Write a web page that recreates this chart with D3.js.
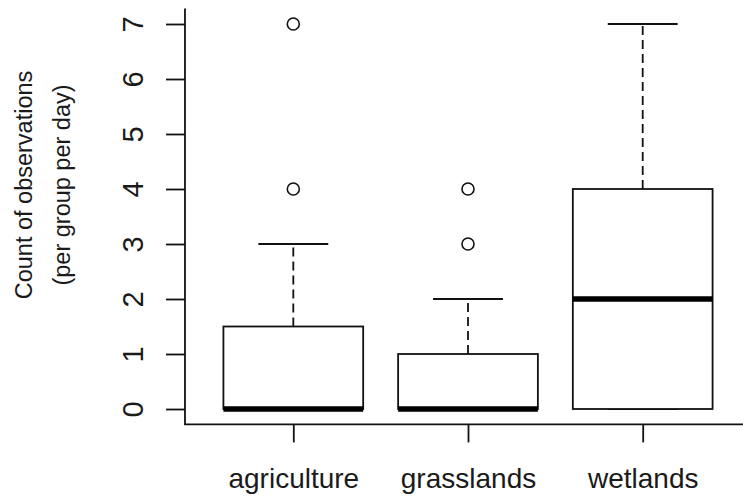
<!DOCTYPE html>
<html>
<head>
<meta charset="utf-8">
<script src="https://cdn.jsdelivr.net/npm/d3@7"></script>
<style>
  html, body { margin: 0; padding: 0; background: #fff; }
  svg { display: block; }
  text { font-family: "Liberation Sans", Arial, sans-serif; fill: #1a1a1a; }
</style>
</head>
<body>
<svg id="chart" width="743" height="498"></svg>
<script>
// ---- data ----
const categories = ["agriculture", "grasslands", "wetlands"];
const whiskerLow = [0, 0, 0];
const q1 = [0, 0, 0];
const median = [0, 0, 2];
const q3 = [1.5, 1, 4];
const whiskerHigh = [3, 2, 7];
const outliers = [[4, 7], [3, 4], []];
const yTicks = [0, 1, 2, 3, 4, 5, 6, 7];
const yTitle = ["Count of observations", "(per group per day)"];

// ---- layout ----
const svg = d3.select("#chart");
const y = d3.scaleLinear().domain([0, 7]).range([409, 24]);
const x = d3.scaleLinear().domain([1, 3]).range([293.3, 642.7]);
const boxHalf = 0.4, capHalf = 0.2;
const frameLeft = x(0.38), frameRight = x(3.62);
const frameTop = y(7.28), frameBottom = y(-0.28);

const data = categories.map((c, i) => ({
  c, i: i + 1, lo: whiskerLow[i], q1: q1[i], med: median[i], q3: q3[i], hi: whiskerHigh[i], out: outliers[i]
}));

// ---- frame (L shape) ----
svg.append("path")
  .attr("d", `M${frameLeft},${frameTop}V${frameBottom}H${frameRight}`)
  .attr("fill", "none").attr("stroke", "#111").attr("stroke-width", 1.8);

// ---- y axis ----
const yAxis = svg.append("g")
  .attr("transform", `translate(${frameLeft},0)`)
  .call(d3.axisLeft(y).tickValues(yTicks).tickSize(19).tickFormat(d3.format("d")));
yAxis.select(".domain").remove();
yAxis.selectAll(".tick line").attr("stroke", "#111").attr("stroke-width", 1.8);
yAxis.selectAll(".tick text")
  .attr("x", null).attr("dy", null)
  .attr("text-anchor", "middle")
  .attr("transform", "translate(-42,0) rotate(-90)")
  .style("font-size", "29px")
  .style("font-family", "'Liberation Sans', Arial, sans-serif")
  .attr("fill", "#1a1a1a");

// ---- x axis ----
const xAxis = svg.append("g")
  .attr("transform", `translate(0,${frameBottom})`)
  .call(d3.axisBottom(x).tickValues([1, 2, 3]).tickSize(18).tickFormat((d) => categories[d - 1]));
xAxis.select(".domain").remove();
xAxis.selectAll(".tick line").attr("stroke", "#111").attr("stroke-width", 1.8);
xAxis.selectAll(".tick text")
  .attr("y", 64).attr("dy", null)
  .style("font-size", "28px")
  .style("font-family", "'Liberation Sans', Arial, sans-serif")
  .attr("fill", "#1a1a1a");

// ---- boxes ----
const g = svg.append("g");
const box = g.selectAll(".box").data(data).enter().append("g").attr("class", "box");

// whiskers (dashed)
box.append("line")
  .attr("x1", d => x(d.i)).attr("x2", d => x(d.i))
  .attr("y1", d => y(d.q3)).attr("y2", d => y(d.hi))
  .attr("stroke", "#111").attr("stroke-width", 1.8).attr("stroke-dasharray", "9,5");
box.append("line")
  .attr("x1", d => x(d.i)).attr("x2", d => x(d.i))
  .attr("y1", d => y(d.q1)).attr("y2", d => y(d.lo))
  .attr("stroke", "#111").attr("stroke-width", 1.8).attr("stroke-dasharray", "9,5");
// caps
box.append("line")
  .attr("x1", d => x(d.i - capHalf)).attr("x2", d => x(d.i + capHalf))
  .attr("y1", d => y(d.hi)).attr("y2", d => y(d.hi))
  .attr("stroke", "#111").attr("stroke-width", 1.8);
box.append("line")
  .attr("x1", d => x(d.i - capHalf)).attr("x2", d => x(d.i + capHalf))
  .attr("y1", d => y(d.lo)).attr("y2", d => y(d.lo))
  .attr("stroke", "#111").attr("stroke-width", 1.8);
// box rect
box.append("rect")
  .attr("x", d => x(d.i - boxHalf))
  .attr("width", d => x(d.i + boxHalf) - x(d.i - boxHalf))
  .attr("y", d => y(d.q3))
  .attr("height", d => y(d.q1) - y(d.q3))
  .attr("fill", "#fff").attr("stroke", "#111").attr("stroke-width", 1.8);
// median
box.append("line")
  .attr("x1", d => x(d.i - boxHalf)).attr("x2", d => x(d.i + boxHalf))
  .attr("y1", d => y(d.med)).attr("y2", d => y(d.med))
  .attr("stroke", "#000").attr("stroke-width", 5.5);

// outliers
box.selectAll("circle").data(d => d.out.map(v => ({ i: d.i, v }))).enter()
  .append("circle")
  .attr("cx", d => x(d.i)).attr("cy", d => y(d.v)).attr("r", 6)
  .attr("fill", "none").attr("stroke", "#111").attr("stroke-width", 1.6);

// ---- y title ----
const titleY = 185;
svg.append("text")
  .attr("transform", `translate(32,${titleY}) rotate(-90)`)
  .attr("text-anchor", "middle")
  .style("font-size", "23.5px")
  .text(yTitle[0]);
svg.append("text")
  .attr("transform", `translate(70,${titleY}) rotate(-90)`)
  .attr("text-anchor", "middle")
  .style("font-size", "23.5px")
  .text(yTitle[1]);
</script>
</body>
</html>
